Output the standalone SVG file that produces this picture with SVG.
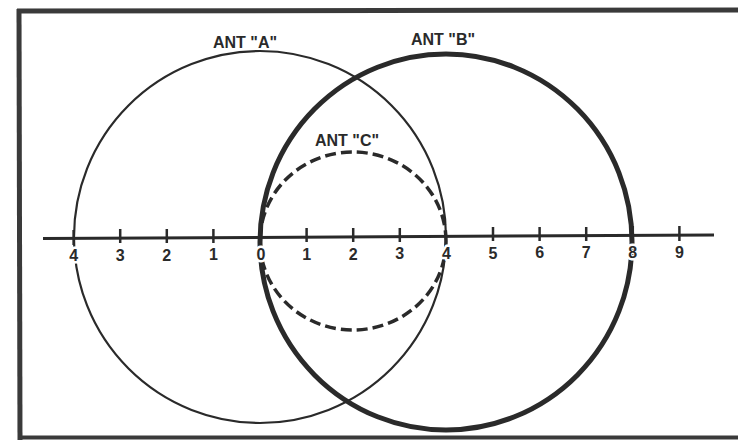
<svg xmlns="http://www.w3.org/2000/svg" width="738" height="440" viewBox="0 0 738 440">
<style>
.lbl{font-family:"Liberation Sans",Arial,sans-serif;font-weight:bold;font-size:16px;fill:#2a2a2a}
.num{font-family:"Liberation Sans",Arial,sans-serif;font-weight:bold;font-size:16px;fill:#2a2a2a;text-anchor:middle;stroke:#ffffff;stroke-width:5px;paint-order:stroke;stroke-linejoin:round}
.tick{stroke:#2a2a2a;stroke-width:2.5}
</style>
<rect width="738" height="440" fill="#ffffff"/>
<g id="frame" fill="none" stroke="#3a3a3a">
<line x1="17" y1="11" x2="738" y2="10" stroke-width="5"/>
<line x1="19" y1="9" x2="20" y2="440" stroke-width="5"/>
<line x1="18" y1="437.5" x2="738" y2="437.5" stroke-width="4"/>
</g>
<g id="ant-a">
<circle cx="260" cy="237" r="186" fill="none" stroke="#2a2a2a" stroke-width="2.2"/>
<text class="lbl" x="213" y="48">ANT "A"</text>
</g>
<g id="ant-b">
<ellipse cx="446" cy="242" rx="186" ry="188" fill="none" stroke="#2a2a2a" stroke-width="5"/>
<text class="lbl" x="411" y="45">ANT "B"</text>
</g>
<g id="ant-c">
<ellipse cx="353" cy="241" rx="93" ry="89" fill="none" stroke="#2a2a2a" stroke-width="3.5" stroke-dasharray="11 5"/>
<text class="lbl" x="315" y="146">ANT "C"</text>
</g>
<g id="connectors">
<g id="axis">
<line x1="43" y1="238.5" x2="714" y2="235" stroke="#2a2a2a" stroke-width="3"/>
<line class="tick" x1="73.6" y1="230" x2="73.6" y2="245"/>
<line class="tick" x1="120.2" y1="229" x2="120.2" y2="243"/>
<line class="tick" x1="166.8" y1="229" x2="166.8" y2="243"/>
<line class="tick" x1="213.4" y1="229" x2="213.4" y2="243"/>
<line class="tick" x1="306.6" y1="228" x2="306.6" y2="242"/>
<line class="tick" x1="353.2" y1="228" x2="353.2" y2="242"/>
<line class="tick" x1="399.8" y1="228" x2="399.8" y2="242"/>
<line class="tick" x1="493" y1="227" x2="493" y2="241"/>
<line class="tick" x1="539.6" y1="227" x2="539.6" y2="241"/>
<line class="tick" x1="586.2" y1="227" x2="586.2" y2="241"/>
<line class="tick" x1="632.8" y1="226" x2="632.8" y2="241"/>
<line class="tick" x1="679.4" y1="226" x2="679.4" y2="241"/>
</g>
</g>
<g id="labels">
<text class="num" x="73.6" y="261">4</text>
<text class="num" x="120.2" y="261">3</text>
<text class="num" x="166.8" y="261">2</text>
<text class="num" x="213.4" y="260">1</text>
<text class="num" x="261" y="260">0</text>
<text class="num" x="306.6" y="260">1</text>
<text class="num" x="353.2" y="260">2</text>
<text class="num" x="399.8" y="259">3</text>
<text class="num" x="446.4" y="259">4</text>
<text class="num" x="493" y="259">5</text>
<text class="num" x="539.6" y="258">6</text>
<text class="num" x="586.2" y="258">7</text>
<text class="num" x="632.8" y="258">8</text>
<text class="num" x="679.4" y="258">9</text>
</g>
</svg>
